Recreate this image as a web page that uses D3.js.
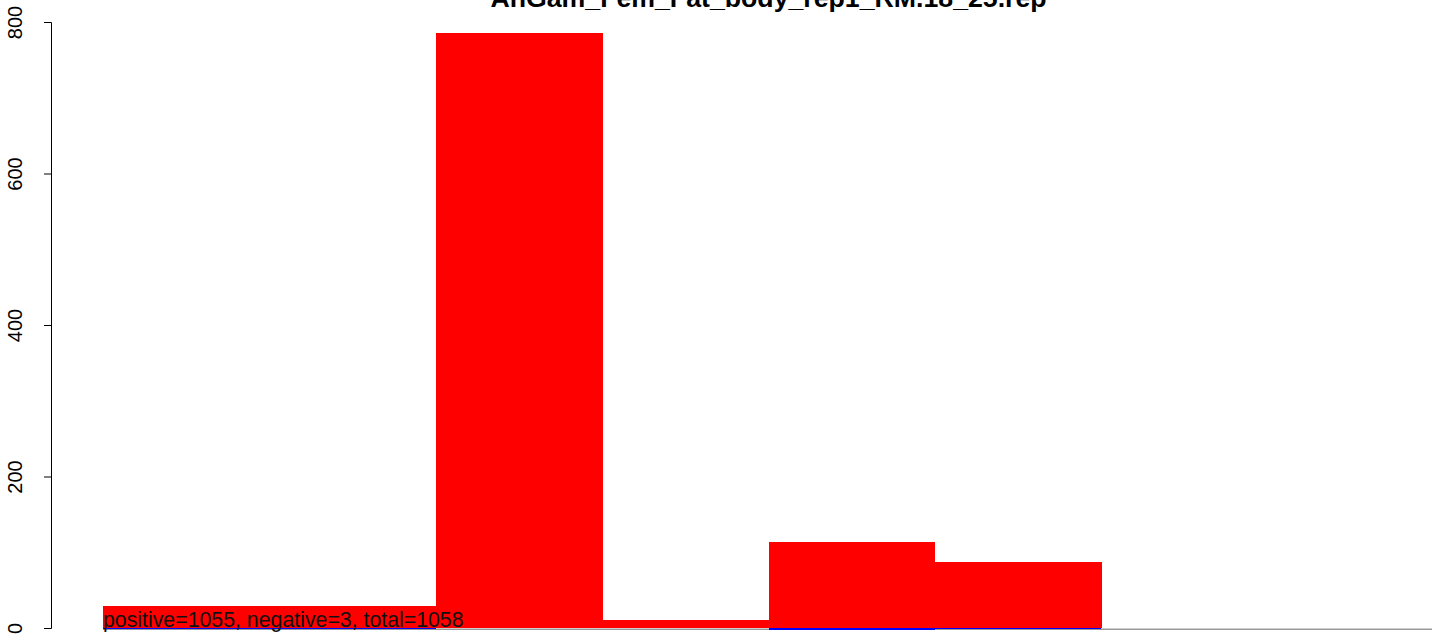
<!DOCTYPE html>
<html>
<head>
<meta charset="utf-8">
<script src="https://cdn.jsdelivr.net/npm/d3@7"></script>
<style>
  html, body { margin: 0; padding: 0; background: #fff; }
  svg { display: block; font-family: "Liberation Sans", Arial, Helvetica, sans-serif; }
</style>
</head>
<body>
<svg id="chart" width="1444" height="641"></svg>
<script>
const titleText = "AnGam_Fem_Fat_body_rep1_RM.18_25.rep";
const categories = ["1", "2", "3", "4", "5", "6", "7", "8"];
const positiveValues = [29, 29, 786, 10, 113, 87, 0, 0];
const negativeValues = [1, 1, 0, 0, 3, 1, 0, 0];
const yTicks = [0, 200, 400, 600, 800];
const summaryText = "positive=1055, negative=3, total=1058";

const svg = d3.select("#chart");

const x = d3.scaleBand().domain(categories).range([103, 1434]).padding(0);
const y = d3.scaleLinear().domain([0, 800]).range([628, 22]);

// zero baseline
svg.append("line")
  .attr("x1", x.range()[0]).attr("x2", x.range()[1] - 2)
  .attr("y1", y(0) + 1.2).attr("y2", y(0) + 1.2)
  .attr("stroke", "#999").attr("stroke-width", 1.5);

// positive bars
svg.append("g").attr("shape-rendering", "crispEdges").selectAll("rect")
  .data(categories.map((c, i) => ({c, v: positiveValues[i]})))
  .join("rect")
  .attr("x", d => x(d.c))
  .attr("width", x.bandwidth() + 0.5)
  .attr("y", d => y(d.v))
  .attr("height", d => y(0) - y(d.v))
  .attr("fill", "#ff0000");

// negative bars (drawn downward)
svg.append("g").attr("shape-rendering", "crispEdges").selectAll("rect")
  .data(categories.map((c, i) => ({c, v: negativeValues[i]})).filter(d => d.v > 0))
  .join("rect")
  .attr("x", d => x(d.c))
  .attr("width", x.bandwidth())
  .attr("y", y(0))
  .attr("height", d => y(0) - y(d.v))
  .attr("fill", "#0000ff");

// y axis
const axis = d3.axisLeft(y).tickValues(yTicks).tickSize(7).tickPadding(6).tickFormat(d3.format("d"));
const gAxis = svg.append("g").attr("transform", "translate(51,0)").call(axis);
gAxis.select(".domain").attr("stroke", "#000").attr("stroke-width", 1);
gAxis.selectAll(".tick line").attr("stroke", "#000").attr("stroke-width", 1);
gAxis.selectAll(".tick text")
  .attr("font-size", 20)
  .attr("fill", "#000")
  .attr("font-family", "'Liberation Sans', Arial, sans-serif")
  .attr("text-anchor", "middle")
  .attr("x", 0).attr("dy", 0).attr("y", 0)
  .attr("transform", "translate(-29,0) rotate(-90)");

// title
svg.append("text")
  .attr("x", (x.range()[0] + x.range()[1]) / 2)
  .attr("y", 7)
  .attr("text-anchor", "middle")
  .attr("font-weight", "bold")
  .attr("font-size", 26.7)
  .attr("fill", "#000")
  .text(titleText);

// summary text
svg.append("text")
  .attr("x", x.range()[0])
  .attr("y", 627)
  .attr("font-size", 21.3)
  .attr("fill", "#111")
  .text(summaryText);
</script>
</body>
</html>
